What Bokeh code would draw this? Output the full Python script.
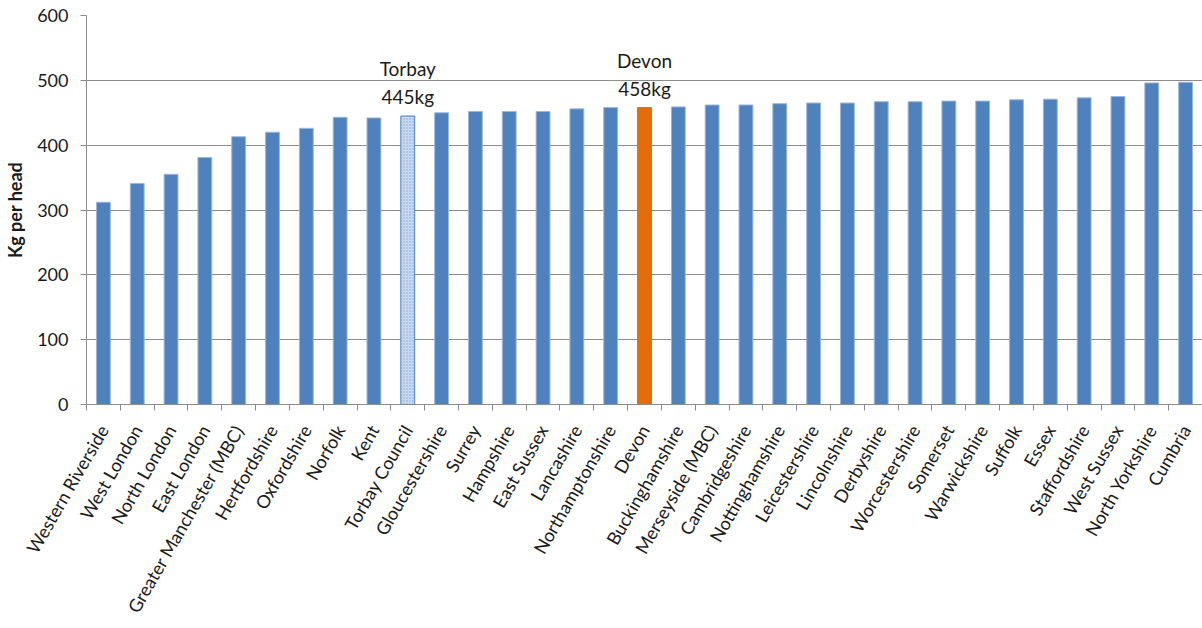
import math
from bokeh.plotting import figure
from bokeh.models import Range1d, FixedTicker, CustomJSTickFormatter, ColumnDataSource
from bokeh.core.properties import value
from bokeh.embed import file_html
from bokeh.resources import INLINE

authorities = [
    "Western Riverside", "West London", "North London", "East London",
    "Greater Manchester (MBC)", "Hertfordshire", "Oxfordshire", "Norfolk", "Kent",
    "Torbay Council", "Gloucestershire", "Surrey", "Hampshire", "East Sussex",
    "Lancashire", "Northamptonshire", "Devon", "Buckinghamshire", "Merseyside (MBC)",
    "Cambridgeshire", "Nottinghamshire", "Leicestershire", "Lincolnshire", "Derbyshire",
    "Worcestershire", "Somerset", "Warwickshire", "Suffolk", "Essex", "Staffordshire",
    "West Sussex", "North Yorkshire", "Cumbria",
]
kg_per_head = [
    312, 341, 355, 381, 413, 420, 426, 443, 442, 445, 450, 452, 452, 452,
    456, 458, 458, 459, 462, 462, 464, 465, 465, 467, 467, 468, 468, 470,
    471, 473, 475, 496, 497,
]
y_ticks = [0, 100, 200, 300, 400, 500, 600]
annotated = ["Torbay Council", "Devon"]
annotation_texts = ["Torbay\n445kg", "Devon\n458kg"]

FONT = "Lato"
BLUE = "#4F81BD"
ORANGE = "#E46C0A"
LIGHT = "#C6D9F1"
GRID = "#8C8C8C"
TEXT = "#1a1a1a"

n = len(authorities)
centers = [i + 0.5 for i in range(n)]
fills, hatches, lines = [], [], []
for a in authorities:
    if a == "Devon":
        fills.append(ORANGE); hatches.append(" "); lines.append(ORANGE)
    elif a == "Torbay Council":
        fills.append(LIGHT); hatches.append("."); lines.append(BLUE)
    else:
        fills.append(BLUE); hatches.append(" "); lines.append("#9DB7DA")

src = ColumnDataSource(dict(x=centers, top=kg_per_head, fill=fills, hatch=hatches, line=lines))

p = figure(
    frame_width=1116, frame_height=389,
    min_border_left=86, min_border_top=15, min_border_right=0, min_border_bottom=222,
    x_range=Range1d(0, n), y_range=Range1d(0, 600),
    output_backend="svg", toolbar_location=None,
)
p.outline_line_color = None
p.background_fill_color = "white"
p.border_fill_color = "white"

p.vbar(x="x", top="top", width=0.41, source=src, fill_color="fill", line_color="line",
       line_width=1, hatch_pattern="hatch", hatch_color=BLUE, hatch_scale=3, hatch_alpha=0.55)

ann_x = [authorities.index(a) + 0.5 for a in annotated]
ann_y = [kg_per_head[authorities.index(a)] for a in annotated]
p.text(x=ann_x, y=ann_y, text=annotation_texts, text_align="center", text_baseline="bottom",
       y_offset=-8, text_font=value(FONT), text_font_size="19px", text_color=TEXT,
       text_line_height=1.2)

# grid
p.xgrid.grid_line_color = None
p.ygrid.grid_line_color = GRID
p.ygrid.grid_line_width = 1
p.ygrid.ticker = FixedTicker(ticks=y_ticks)

# y axis
ya = p.yaxis[0]
ya.ticker = FixedTicker(ticks=y_ticks)
ya.axis_line_color = GRID
ya.major_tick_line_color = GRID
ya.major_tick_out = 6
ya.major_tick_in = 0
ya.minor_tick_line_color = None
ya.major_label_text_font = FONT
ya.major_label_text_font_size = "18px"
ya.major_label_text_color = TEXT
ya.major_label_standoff = 12
ya.axis_label = "Kg per head"
ya.axis_label_text_font = FONT
ya.axis_label_text_font_size = "18px"
ya.axis_label_text_font_style = "bold"
ya.axis_label_text_color = TEXT
ya.axis_label_standoff = 8

# x axis
xa = p.xaxis[0]
xa.ticker = FixedTicker(ticks=centers, minor_ticks=list(range(n + 1)))
xa.formatter = CustomJSTickFormatter(args=dict(names=authorities),
                                     code="return names[Math.floor(tick)] || '';")
xa.axis_line_color = GRID
xa.major_tick_line_color = None
xa.minor_tick_line_color = GRID
xa.minor_tick_out = 6
xa.minor_tick_in = 0
xa.major_label_orientation = math.radians(60)
xa.major_label_text_font = FONT
xa.major_label_text_font_size = "18px"
xa.major_label_text_color = TEXT
xa.major_label_standoff = 16

open("out.html", "w").write(file_html(p, INLINE))
